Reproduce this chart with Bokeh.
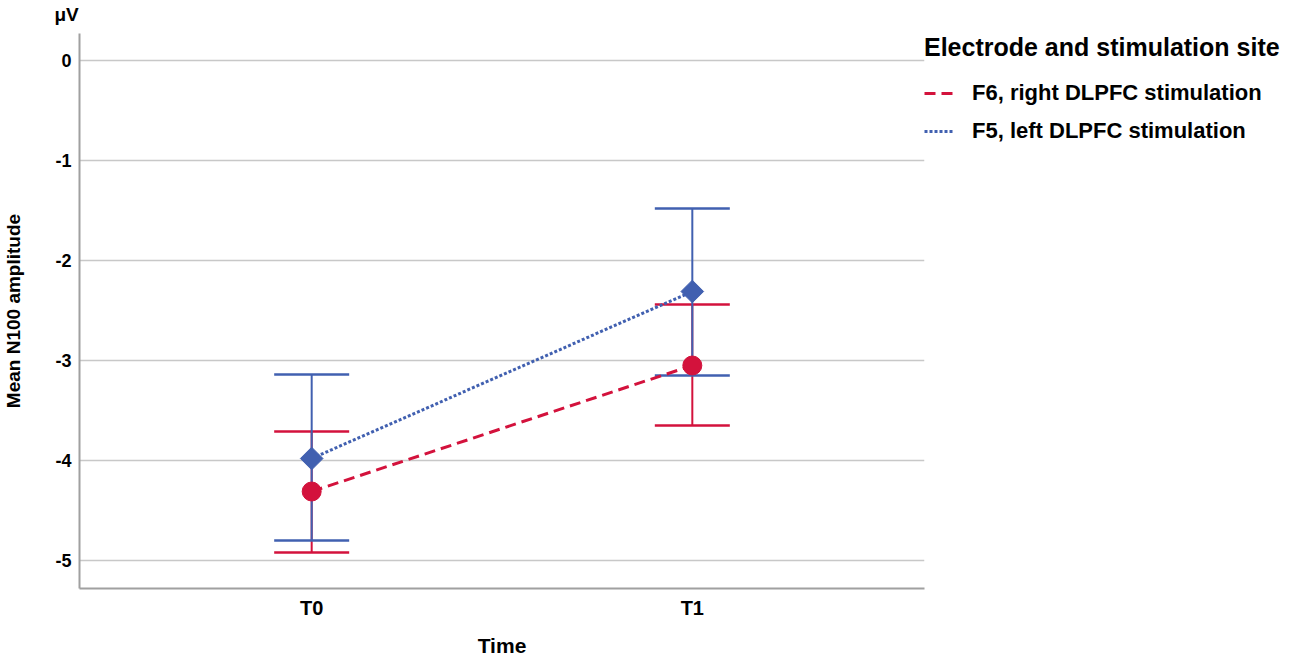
import math
from bokeh.plotting import figure
from bokeh.models import (ColumnDataSource, FactorRange, Range1d, FixedTicker, Whisker, TeeHead,
                          Legend, LegendItem, Title)
from bokeh.embed import file_html
from bokeh.resources import INLINE

times = ["T0", "T1"]
right_mean = [-4.31, -3.05]
right_low = [-4.92, -3.65]
right_high = [-3.71, -2.44]
left_mean = [-3.98, -2.31]
left_low = [-4.80, -3.15]
left_high = [-3.14, -1.48]
y_ticks = [0, -1, -2, -3, -4, -5]
y_tick_labels = {t: str(t) for t in y_ticks}

RED = "#D3123C"
BLUE = "#4160B0"
FONT = "Liberation Sans"

p = figure(frame_width=845, frame_height=555, output_backend="svg", toolbar_location=None,
           x_range=FactorRange(factors=times, range_padding=0.11, range_padding_units="absolute"),
           y_range=Range1d(-5.28, 0.27),
           min_border_left=0, min_border_top=0, min_border_bottom=0, min_border_right=0)
p.outline_line_color = None
p.background_fill_color = "white"

# unit label "μV" above the y axis
p.title.text = "μV"
p.title.align = "left"
p.title.offset = -25
p.title.standoff = 2
p.title.text_font = FONT
p.title.text_font_style = "bold"
p.title.text_font_size = "19px"
p.title.text_color = "black"
# small spacer above the unit label
p.add_layout(Title(text=" ", text_font_size="6px", standoff=0), "above")
p.above = list(reversed(p.above))

src_r = ColumnDataSource(dict(x=times, m=right_mean, lo=right_low, hi=right_high))
src_l = ColumnDataSource(dict(x=times, m=left_mean, lo=left_low, hi=left_high))

for src, col in ((src_r, RED), (src_l, BLUE)):
    w = Whisker(base="x", upper="hi", lower="lo", source=src, line_color=col, line_width=2,
                upper_head=TeeHead(size=75, line_color=col, line_width=2.5),
                lower_head=TeeHead(size=75, line_color=col, line_width=2.5))
    p.add_layout(w)

lr = p.line("x", "m", source=src_r, line_color=RED, line_width=3, line_dash="11 6")
ll = p.line("x", "m", source=src_l, line_color=BLUE, line_width=3, line_dash="3 2")
p.scatter("x", "m", source=src_r, marker="circle", size=19, fill_color=RED, line_color=RED)
p.scatter("x", "m", source=src_l, marker="square", size=16, angle=math.pi / 4,
          fill_color=BLUE, line_color=BLUE)

# axes
p.xgrid.grid_line_color = None
p.ygrid.grid_line_color = "#C8C8C8"
p.ygrid.grid_line_width = 1.5
p.yaxis.ticker = FixedTicker(ticks=y_ticks)
p.yaxis.major_label_overrides = y_tick_labels
for ax in (p.xaxis[0], p.yaxis[0]):
    ax.axis_line_color = "#A0A0A0"
    ax.axis_line_width = 2
    ax.major_tick_line_color = None
    ax.minor_tick_line_color = None
    ax.major_label_text_font = FONT
    ax.major_label_text_font_style = "bold"
    ax.major_label_text_color = "black"
    ax.axis_label_text_font = FONT
    ax.axis_label_text_font_style = "bold"
    ax.axis_label_text_color = "black"
p.yaxis.major_label_text_font_size = "18px"
p.xaxis.major_label_text_font_size = "20px"
p.yaxis.axis_label = "Mean N100 amplitude"
p.yaxis.axis_label_text_font_size = "19px"
p.yaxis.major_label_standoff = 2
p.yaxis.axis_label_standoff = 28
p.xaxis.axis_label = "Time"
p.xaxis.axis_label_text_font_size = "21px"
p.xaxis.major_label_standoff = 2
p.xaxis.axis_label_standoff = 12

legend = Legend(items=[LegendItem(label="F6, right DLPFC stimulation", renderers=[lr]),
                       LegendItem(label="F5, left DLPFC stimulation", renderers=[ll])],
                title="Electrode and stimulation site", location="top_left")
legend.title_text_font = FONT
legend.title_text_font_style = "bold"
legend.title_text_font_size = "25px"
legend.title_text_color = "black"
legend.title_standoff = 16
legend.label_text_font = FONT
legend.label_text_font_style = "bold"
legend.label_text_font_size = "22px"
legend.label_text_color = "black"
legend.label_height = 30
legend.glyph_width = 30
legend.glyph_height = 30
legend.label_standoff = 18
legend.spacing = 8
legend.padding = 6
legend.margin = 0
legend.border_line_color = None
legend.background_fill_alpha = 0
p.add_layout(legend, "right")

open("out.html", "w").write(file_html(p, INLINE))
